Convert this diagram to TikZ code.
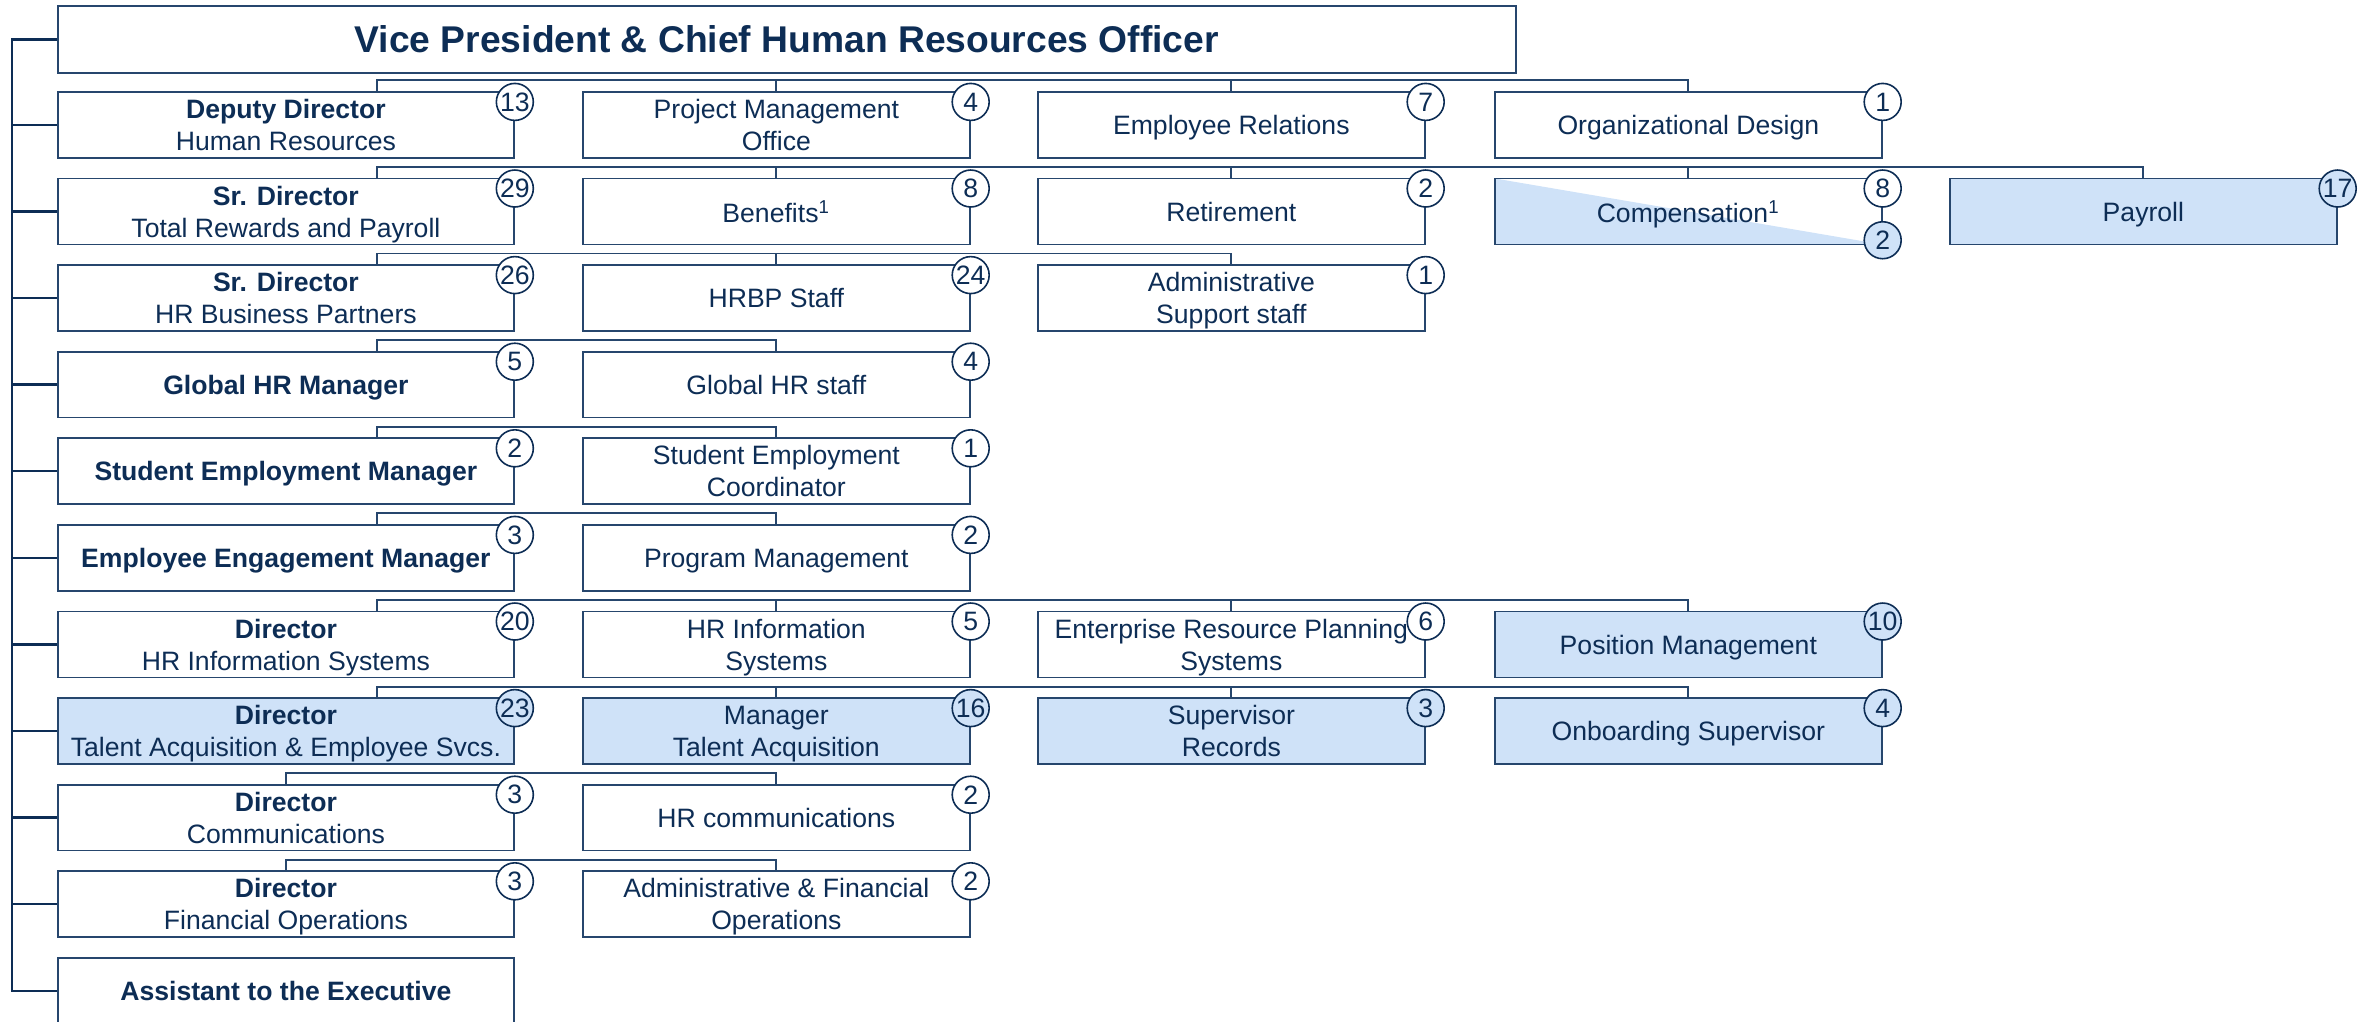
\documentclass[tikz,border=0pt]{standalone}
\usepackage{fontspec}
\setmainfont{Liberation Sans}
\definecolor{ink}{HTML}{0D2D55}
\definecolor{rule}{HTML}{26466D}
\definecolor{tint}{HTML}{CFE2F8}
\tikzset{
  unit/.style={draw=rule, line width=0.65pt, text=ink, align=center, anchor=north west,
    inner sep=0pt, text depth=0pt, minimum width=145.5pt, minimum height=24.8pt, font=\fontsize{10}{12}\selectfont},
  lead/.style={unit, minimum width=171.5pt},
  shaded/.style={fill=tint},
  badge/.style={circle, draw=ink, line width=0.6pt, fill=white, text=ink, inner sep=0pt,
    minimum size=13.9pt, font=\fontsize{10}{12}\selectfont},
  link/.style={draw=rule, line width=0.7pt},
  spine/.style={draw=ink, line width=0.9pt},
}
\begin{document}
\begin{tikzpicture}[x=0.376pt, y=-0.376pt]
        \useasboundingbox (0,0) rectangle (2364,1021);
        \clip (0,0) rectangle (2364,1021);

        \node[unit, minimum width=548.2pt, minimum height=25.2pt, font=\fontsize{14}{17}\selectfont\bfseries] (vp) at (57,5) {Vice President \& Chief Human Resources Officer};

        % row 1
        \node[lead] (b1-1) at (57,91) {\textbf{Deputy Director}\\Human Resources};
        \node[unit] (b1-2) at (582,91) {Project Management\\Office};
        \node[unit] (b1-3) at (1037,91) {Employee Relations};
        \node[unit] (b1-4) at (1494,91) {Organizational Design};

        % row 2
        \node[lead] (b2-1) at (57,177.6) {\textbf{Sr. Director}\\Total Rewards and Payroll};
        \node[unit] (b2-2) at (582,177.6) {Benefits\textsuperscript{1}};
        \node[unit] (b2-3) at (1037,177.6) {Retirement};
        \node[unit, path picture={\fill[tint] (path picture bounding box.north west) -- (path picture bounding box.south east) -- (path picture bounding box.south west) -- cycle;}] (b2-4) at (1494,177.6) {Compensation\textsuperscript{1}};
        \node[unit, shaded] (b2-5) at (1949,177.6) {Payroll};

        % row 3
        \node[lead] (b3-1) at (57,264.2) {\textbf{Sr. Director}\\HR Business Partners};
        \node[unit] (b3-2) at (582,264.2) {HRBP Staff};
        \node[unit] (b3-3) at (1037,264.2) {Administrative\\Support staff};

        % rows 4 to 6
        \node[lead] (b4-1) at (57,350.8) {\textbf{Global HR Manager}};
        \node[unit] (b4-2) at (582,350.8) {Global HR staff};
        \node[lead] (b5-1) at (57,437.4) {\textbf{Student Employment Manager}};
        \node[unit] (b5-2) at (582,437.4) {Student Employment\\Coordinator};
        \node[lead] (b6-1) at (57,524) {\textbf{Employee Engagement Manager}};
        \node[unit] (b6-2) at (582,524) {Program Management};

        % row 7
        \node[lead] (b7-1) at (57,610.6) {\textbf{Director}\\HR Information Systems};
        \node[unit] (b7-2) at (582,610.6) {HR Information\\Systems};
        \node[unit] (b7-3) at (1037,610.6) {Enterprise Resource Planning\\Systems};
        \node[unit, shaded] (b7-4) at (1494,610.6) {Position Management};

        % row 8
        \node[lead, shaded] (b8-1) at (57,697.2) {\textbf{Director}\\Talent Acquisition \& Employee Svcs.};
        \node[unit, shaded] (b8-2) at (582,697.2) {Manager\\Talent Acquisition};
        \node[unit, shaded] (b8-3) at (1037,697.2) {Supervisor\\Records};
        \node[unit, shaded] (b8-4) at (1494,697.2) {Onboarding Supervisor};

        % rows 9 to 11
        \node[lead] (b9-1) at (57,783.8) {\textbf{Director}\\Communications};
        \node[unit] (b9-2) at (582,783.8) {HR communications};
        \node[lead] (b10-1) at (57,870.4) {\textbf{Director}\\Financial Operations};
        \node[unit] (b10-2) at (582,870.4) {Administrative \& Financial\\Operations};
        \node[lead] (b11-1) at (57,957) {\textbf{Assistant to the Executive}};

        % left spine
        \coordinate (sp) at ([xshift=-16.9pt]vp.west);
        \draw[spine] (vp.west) -- (sp) |- (b11-1.west);
        \foreach \r in {1,...,10}
            \draw[spine] (sp) |- (b\r-1.west);

        % row bars
        \foreach \r/\last in {1/4, 2/5, 3/3, 4/2, 5/2, 6/2, 7/4, 8/4} {
            \draw[link] ([xshift=34.2pt]b\r-1.north) -- ++(0,4pt) -| (b\r-\last.north);
            \foreach \c in {2,...,\last}
                \draw[link] (b\r-\c.north) -- ++(0,4pt);
        }
        \draw[link] (b9-1.north) -- ++(0,4pt) -| (b9-2.north);
        \draw[link] (b10-1.north) -- ++(0,4pt) -| (b10-2.north);

        % head counts
        \node[badge] (k1-1) at ([yshift=-4.1pt]b1-1.north east) {13};
        \node[badge] (k1-2) at ([yshift=-4.1pt]b1-2.north east) {4};
        \node[badge] (k1-3) at ([yshift=-4.1pt]b1-3.north east) {7};
        \node[badge] (k1-4) at ([yshift=-4.1pt]b1-4.north east) {1};
        \node[badge] (k2-1) at ([yshift=-4.1pt]b2-1.north east) {29};
        \node[badge] (k2-2) at ([yshift=-4.1pt]b2-2.north east) {8};
        \node[badge] (k2-3) at ([yshift=-4.1pt]b2-3.north east) {2};
        \node[badge] (k2-4) at ([yshift=-4.1pt]b2-4.north east) {8};
        \node[badge, shaded] (k2-4b) at ([yshift=1.9pt]b2-4.south east) {2};
        \node[badge, shaded] (k2-5) at ([yshift=-4.1pt]b2-5.north east) {17};
        \node[badge] (k3-1) at ([yshift=-4.1pt]b3-1.north east) {26};
        \node[badge] (k3-2) at ([yshift=-4.1pt]b3-2.north east) {24};
        \node[badge] (k3-3) at ([yshift=-4.1pt]b3-3.north east) {1};
        \node[badge] (k4-1) at ([yshift=-4.1pt]b4-1.north east) {5};
        \node[badge] (k4-2) at ([yshift=-4.1pt]b4-2.north east) {4};
        \node[badge] (k5-1) at ([yshift=-4.1pt]b5-1.north east) {2};
        \node[badge] (k5-2) at ([yshift=-4.1pt]b5-2.north east) {1};
        \node[badge] (k6-1) at ([yshift=-4.1pt]b6-1.north east) {3};
        \node[badge] (k6-2) at ([yshift=-4.1pt]b6-2.north east) {2};
        \node[badge] (k7-1) at ([yshift=-4.1pt]b7-1.north east) {20};
        \node[badge] (k7-2) at ([yshift=-4.1pt]b7-2.north east) {5};
        \node[badge] (k7-3) at ([yshift=-4.1pt]b7-3.north east) {6};
        \node[badge, shaded] (k7-4) at ([yshift=-4.1pt]b7-4.north east) {10};
        \node[badge, shaded] (k8-1) at ([yshift=-4.1pt]b8-1.north east) {23};
        \node[badge, shaded] (k8-2) at ([yshift=-4.1pt]b8-2.north east) {16};
        \node[badge, shaded] (k8-3) at ([yshift=-4.1pt]b8-3.north east) {3};
        \node[badge, shaded] (k8-4) at ([yshift=-4.1pt]b8-4.north east) {4};
        \node[badge] (k9-1) at ([yshift=-4.1pt]b9-1.north east) {3};
        \node[badge] (k9-2) at ([yshift=-4.1pt]b9-2.north east) {2};
        \node[badge] (k10-1) at ([yshift=-4.1pt]b10-1.north east) {3};
        \node[badge] (k10-2) at ([yshift=-4.1pt]b10-2.north east) {2};

    \end{tikzpicture}
\end{document}
